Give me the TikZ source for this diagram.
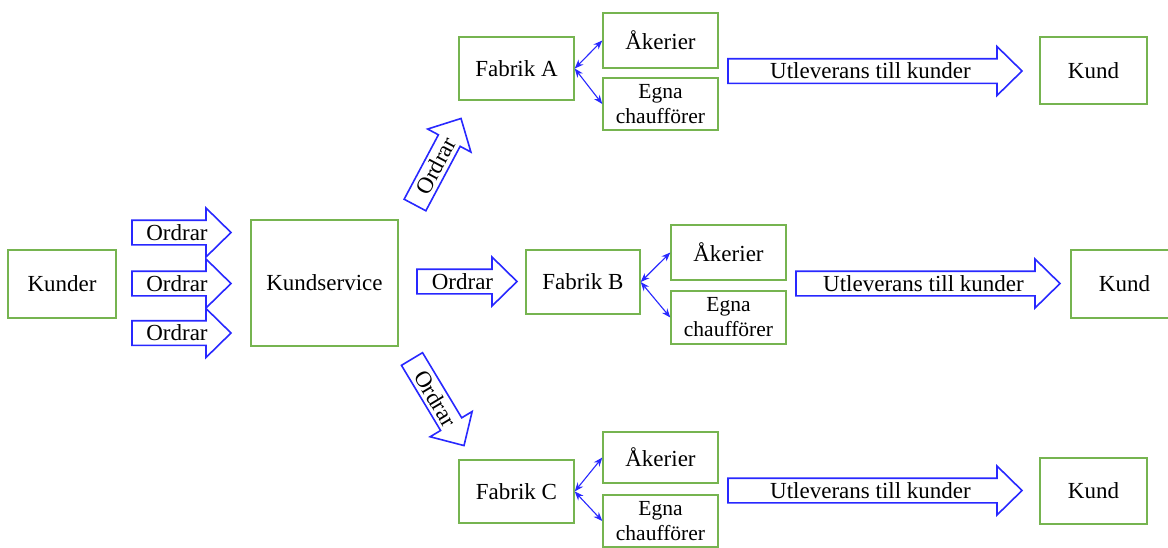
\documentclass[tikz,border=0pt]{standalone}
\usepackage{fontspec}
\setmainfont{Liberation Serif}
\usetikzlibrary{arrows.meta}
\definecolor{boxgreen}{RGB}{118,180,80}
\definecolor{arrblue}{RGB}{40,40,255}
\tikzset{
  gbox/.style={draw=boxgreen, line width=1.4pt, fill=white, inner sep=0pt, align=center,
    font=\fontsize{23}{26}\selectfont},
  sbox/.style={gbox, minimum width=115pt, font=\fontsize{21.5}{25}\selectfont},
  barrow/.style={draw=arrblue, line width=1.6pt, fill=white, line join=miter},
  lbl/.style={inner sep=0pt, font=\fontsize{23}{26}\selectfont},
  dbl/.style={draw=arrblue, line width=1.1pt, {Stealth[length=9pt,width=7pt]}-{Stealth[length=9pt,width=7pt]}},
}
% name, x, y (tail centre), length, angle, text
\newcommand{\blockarr}[6]{%
  \begin{scope}[shift={(#2,#3)}, rotate=#5]
    \draw[barrow] (0,-12.3) -- ({#4-25},-12.3) -- ({#4-25},-24.5) -- (#4,0)
      -- ({#4-25},24.5) -- ({#4-25},12.3) -- (0,12.3) -- cycle;
    \node[lbl, rotate=#5] (#1) at ({(#4-25)/2+8},0) {#6};
  \end{scope}}
\begin{document}
\begin{tikzpicture}[x=1pt,y=-1pt]
\useasboundingbox (0,0) rectangle (1168,547);
\begin{scope}
\clip (0,0) rectangle (1168,547);
% main boxes
\node[gbox, minimum width=108pt, minimum height=68pt] (kunder) at (62,284) {Kunder};
\node[gbox, minimum width=147pt, minimum height=126pt] (ks) at (324.5,283) {Kundservice};
\node[gbox, minimum width=115pt, minimum height=63pt] (fa) at (516.5,68.5) {Fabrik A};
\node[gbox, minimum width=114pt, minimum height=64pt] (fb) at (583,282) {Fabrik B};
\node[gbox, minimum width=115pt, minimum height=63pt] (fc) at (516.5,491.5) {Fabrik C};
% small boxes
\node[sbox, minimum height=55pt, font=\fontsize{23}{26}\selectfont] (aa) at (660.5,40.5) {Åkerier};
\node[sbox, minimum height=52pt] (ea) at (660.5,104) {Egna\\chaufförer};
\node[sbox, minimum height=55pt, font=\fontsize{23}{26}\selectfont] (ab) at (728.5,252.5) {Åkerier};
\node[sbox, minimum height=53pt] (eb) at (728.5,317.5) {Egna\\chaufförer};
\node[sbox, minimum height=51pt, font=\fontsize{23}{26}\selectfont] (ac) at (660.5,457.5) {Åkerier};
\node[sbox, minimum height=52pt] (ec) at (660.5,521) {Egna\\chaufförer};
% customers
\node[gbox, minimum width=107pt, minimum height=67pt] (ka) at (1093.5,70.5) {Kund};
\node[gbox, minimum width=107pt, minimum height=68pt] (kb) at (1124.5,284) {Kund};
\node[gbox, minimum width=107pt, minimum height=66pt] (kc) at (1093.5,491) {Kund};
% block arrows
\blockarr{o1}{132}{232.5}{99}{0}{Ordrar}
\blockarr{o2}{132}{283.5}{99}{0}{Ordrar}
\blockarr{o3}{132}{333}{99}{0}{Ordrar}
\blockarr{om}{417}{281.5}{100}{0}{Ordrar}
\blockarr{ou}{415}{205}{98}{62}{Ordrar}
\blockarr{od}{412}{359}{101}{-59}{Ordrar}
\blockarr{ua}{728}{71}{294}{0}{Utleverans till kunder}
\blockarr{ub}{796}{283.5}{264}{0}{Utleverans till kunder}
\blockarr{uc}{728}{490.5}{294}{0}{Utleverans till kunder}
% double arrows
\draw[dbl] (fa.east) -- (aa.west);
\draw[dbl] (fa.east) -- (ea.west);
\draw[dbl] (fb.east) -- (ab.west);
\draw[dbl] (fb.east) -- (eb.west);
\draw[dbl] (fc.east) -- (ac.west);
\draw[dbl] (fc.east) -- (ec.west);
\end{scope}
\end{tikzpicture}
\end{document}
